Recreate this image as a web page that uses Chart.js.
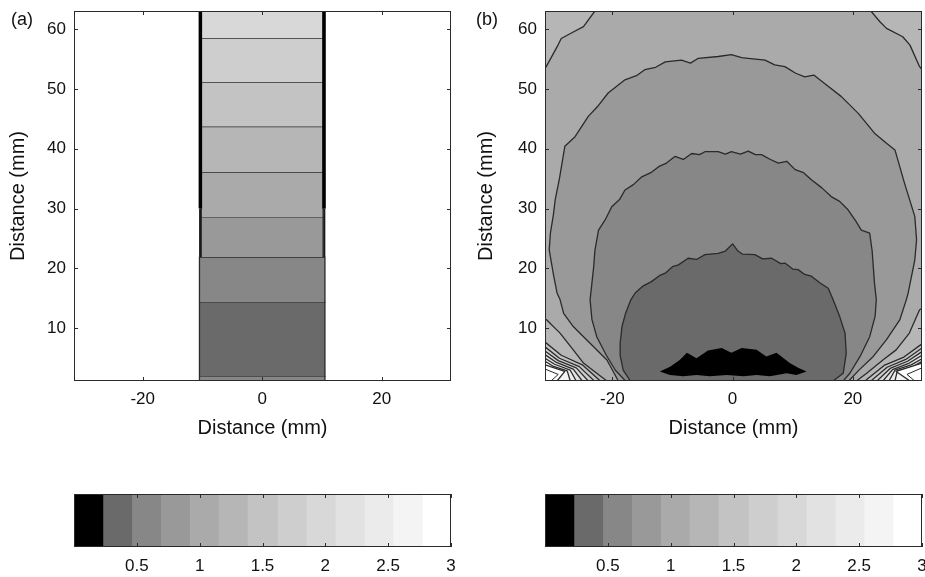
<!DOCTYPE html>
<html>
<head>
<meta charset="utf-8">
<script src="https://cdn.jsdelivr.net/npm/chart.js@4.4.1/dist/chart.umd.min.js"></script>
<style>
  html, body { margin: 0; padding: 0; background: #fff; }
  #wrap { position: relative; width: 925px; height: 577px; overflow: hidden; font-family: "Liberation Sans", Arial, sans-serif; }
  canvas { position: absolute; }
  .tag { position: absolute; font-size: 18px; line-height: 20px; color: #111; }
</style>
</head>
<body>
<div id="wrap">
  <canvas id="panelA" width="462" height="450" style="left:0;top:0"></canvas>
  <canvas id="panelB" width="463" height="450" style="left:462px;top:0"></canvas>
  <canvas id="barA" width="462" height="97" style="left:0;top:480px"></canvas>
  <canvas id="barB" width="463" height="97" style="left:462px;top:480px"></canvas>
  <div class="tag" id="tagA" style="left:11px;top:9px"></div>
  <div class="tag" id="tagB" style="left:476px;top:9px"></div>
</div>
<script>
// ---- data (mm / dose units) ----
const panelTags = ["(a)", "(b)"];
const axisTitle = "Distance (mm)";
const xTicks = [-20, 0, 20];
const yTicks = [10, 20, 30, 40, 50, 60];
const barTicks = [0.5, 1, 1.5, 2, 2.5, 3];
// colour bar blocks: 13 grey levels between 0 and 3
const levelEdges = [0, 0.23, 0.46, 0.69, 0.92, 1.15, 1.38, 1.62, 1.85, 2.08, 2.31, 2.54, 2.77, 3];

// (a) beam column: horizontal bands
const aBandBottom = [0, 2.0, 14.4, 21.9, 28.6, 36.1, 43.7, 51.1, 58.45];
const aBandTop    = [2.0, 14.4, 21.9, 28.6, 36.1, 43.7, 51.1, 58.45, 64];
const aBandLevel  = [2, 1, 2, 3, 4, 5, 6, 7, 8];
const aBandHalf   = [10.5, 10.5, 10.5, 10.2, 10.2, 10.2, 10.2, 10.2, 10.2];
// crowded contour lines on the column edges
const aEdgeThick = [10.35, 30, 64];
const aEdgeThin = [10.4, 21.9, 30];

// (b) contour regions, each a closed outline [x, y]
const bOuter = [[-32, 64], [32.5, 64], [32.5, 0], [-32, 0]];
const bTopLeft = [[-22.9, 64], [-22.9, 63], [-24.8, 60.4], [-26.5, 59.5], [-28.5, 58.4], [-29.2, 57.0], [-31.0, 53.7], [-32, 52.5], [-32, 64]];
const bTopRight = [[22.9, 64], [23.0, 63], [24.5, 61.2], [25.6, 60.1], [28.3, 58.7], [29.5, 57.3], [31.1, 53.7], [32.5, 52], [32.5, 64]];
const bShell3 = [[-19.0, 1.2], [-20.9, 4.7], [-23.7, 7.5], [-24.8, 8.6], [-26.5, 10.3], [-28.1, 12.5], [-28.7, 14.8], [-29.2, 15.9],
  [-29.8, 19.0], [-30.5, 23.1], [-30.3, 25.9], [-29.8, 29.0], [-29.5, 31.5], [-28.8, 35.0], [-27.9, 40.4], [-26.2, 42.0],
  [-24.0, 45.4], [-22.5, 47.0], [-20.7, 49.3], [-17.9, 51.5], [-16.0, 52.2], [-14.6, 53.2], [-12.8, 53.6], [-11.2, 54.5],
  [-8.5, 54.8], [-7.0, 54.3], [-5.7, 55.1], [-2.4, 55.4], [-0.2, 55.7], [1.5, 55.2], [2.6, 55.1], [5.4, 54.8], [7.0, 54.0],
  [8.7, 53.7], [10.5, 52.6], [12.0, 52.0], [13.5, 52.3], [15.3, 50.9], [18.1, 48.7], [20.9, 45.9], [23.6, 42.6], [25.5, 41.0],
  [27.0, 39.8], [28.6, 34.2], [30.3, 28.7], [30.6, 24.8], [30.3, 21.4], [29.2, 15.9], [28.9, 14.8], [27.8, 11.4], [25.6, 8.1],
  [23.4, 5.3], [21.1, 3.1], [19.3, 1.2]];
const bShell2 = [[-17.8, 1.2], [-19.5, 3.0], [-21.0, 5.5], [-22.6, 8.6], [-23.4, 11.5], [-23.7, 14.8], [-23.4, 17.5], [-23.1, 20.3],
  [-22.9, 23.0], [-22.3, 26.4], [-21.2, 28.1], [-20.1, 30.3], [-18.8, 31.5], [-17.9, 33.1], [-16.5, 34.0], [-15.1, 35.3],
  [-13.6, 36.0], [-12.3, 37.0], [-11.0, 37.6], [-9.6, 38.7], [-8.2, 38.2], [-6.8, 39.2], [-5.5, 39.0], [-4.6, 39.5],
  [-2.4, 39.5], [-1.2, 39.1], [-0.2, 39.5], [1.3, 39.1], [2.6, 39.6], [3.8, 39.0], [4.8, 39.0], [6.3, 38.2], [7.6, 37.6],
  [9.0, 37.9], [10.4, 36.5], [11.8, 36.0], [13.1, 34.8], [14.8, 33.5], [16.4, 32.0], [17.8, 31.2], [19.2, 29.8], [20.5, 27.9],
  [21.4, 26.4], [22.8, 25.9], [23.2, 23.0], [23.4, 20.3], [23.6, 17.5], [23.9, 14.8], [23.7, 12.0], [22.8, 8.6], [21.2, 5.3],
  [19.5, 2.5], [18.4, 1.2]];
const bCore = [[-17.0, 1.2], [-18.2, 3.0], [-18.7, 5.5], [-18.7, 7.5], [-18.4, 10.3], [-17.8, 12.5], [-16.9, 14.8], [-16.2, 15.9],
  [-15.0, 17.0], [-13.5, 17.8], [-12.0, 18.9], [-11.2, 19.2], [-10.0, 20.3], [-9.0, 20.6], [-7.4, 21.7], [-6.0, 21.5],
  [-4.6, 22.3], [-2.4, 22.5], [-1.2, 22.9], [0.0, 24.1], [0.8, 23.0], [1.6, 22.4], [3.7, 22.3], [5.0, 21.6], [6.5, 21.7],
  [8.0, 20.8], [8.7, 20.9], [10.0, 19.9], [10.9, 19.8], [12.0, 19.0], [13.1, 18.7], [14.5, 17.6], [15.9, 16.7], [16.7, 14.8],
  [17.8, 12.0], [18.7, 9.2], [18.9, 5.8], [18.4, 2.5], [16.7, 1.2]];
const bPeak = [[-12.1, 2.8], [-10.4, 3.6], [-8.8, 4.7], [-7.6, 5.9], [-6.0, 5.0], [-4.1, 6.3], [-1.8, 6.7], [-0.2, 5.9], [1.5, 6.7],
  [4.0, 6.4], [5.6, 5.3], [7.3, 5.9], [9.5, 4.2], [10.9, 3.4], [12.3, 2.8], [10.6, 2.2], [9.0, 2.5], [6.2, 2.0], [4.0, 2.2],
  [1.8, 2.0], [-1.0, 2.2], [-3.8, 2.0], [-6.0, 2.2], [-8.2, 2.0], [-10.4, 2.2]];
// corner fans near the surface, outer (level 5) to inner (level 12)
const bFanLeft = [
  [[-32, 11.8], [-30.9, 11.4], [-28.7, 9.2], [-26.5, 6.4], [-24.8, 4.2], [-22.6, 2.5], [-20.9, 1.2], [-20.9, 0], [-32, 0]],
  [[-32, 7.9], [-31.2, 7.7], [-28.5, 5.5], [-25.0, 3.9], [-22.0, 1.2], [-22.0, 0], [-32, 0]],
  [[-32, 7.1], [-31.2, 6.9], [-28.8, 5.0], [-25.5, 3.6], [-23.0, 1.2], [-23.0, 0], [-32, 0]],
  [[-32, 6.4], [-31.2, 6.2], [-29.0, 4.6], [-26.0, 3.4], [-24.0, 1.2], [-24.0, 0], [-32, 0]],
  [[-32, 5.8], [-31.2, 5.6], [-29.3, 4.3], [-26.5, 3.2], [-25.0, 1.2], [-25.0, 0], [-32, 0]],
  [[-32, 5.2], [-31.2, 5.0], [-29.6, 4.0], [-27.0, 3.0], [-26.0, 1.2], [-26.0, 0], [-32, 0]],
  [[-32, 4.6], [-31.2, 4.5], [-29.9, 3.7], [-27.5, 2.9], [-27.0, 1.2], [-27.0, 0], [-32, 0]],
  [[-32, 4.0], [-31.2, 3.9], [-27.9, 2.8], [-29.2, 1.2], [-29.2, 0], [-32, 0]]
];
const bFanRight = [
  [[32.5, 13.8], [31.1, 13.1], [29.4, 9.2], [27.2, 6.4], [25.0, 4.7], [22.3, 2.5], [20.6, 1.2], [20.6, 0], [32.5, 0]],
  [[32.5, 7.6], [31.5, 7.4], [28.5, 5.2], [25.2, 3.8], [22.0, 1.2], [22.0, 0], [32.5, 0]],
  [[32.5, 6.9], [31.5, 6.7], [28.8, 4.8], [25.7, 3.5], [23.0, 1.2], [23.0, 0], [32.5, 0]],
  [[32.5, 6.3], [31.5, 6.1], [29.1, 4.5], [26.2, 3.3], [24.0, 1.2], [24.0, 0], [32.5, 0]],
  [[32.5, 5.7], [31.5, 5.5], [29.4, 4.2], [26.6, 3.1], [25.0, 1.2], [25.0, 0], [32.5, 0]],
  [[32.5, 5.1], [31.5, 4.9], [29.7, 3.9], [27.0, 3.0], [26.0, 1.2], [26.0, 0], [32.5, 0]],
  [[32.5, 4.6], [31.5, 4.5], [30.0, 3.6], [27.4, 2.9], [27.0, 1.2], [27.0, 0], [32.5, 0]],
  [[32.5, 4.3], [31.5, 4.2], [27.2, 2.8], [29.5, 1.2], [29.5, 0], [32.5, 0]]
];
const bFanLevel = [5, 6, 7, 8, 9, 10, 11, 12];
// extra lines inside the white corners
const bWhiteLines = [
  [[-31.2, 3.2], [-29.0, 2.3], [-30.2, 1.2]],
  [[31.5, 3.4], [29.0, 2.3], [30.3, 1.2]]
];

// ---- styling ----
const GREYS = ["#000000", "#6a6a6a", "#878787", "#999999", "#aaaaaa", "#b6b6b6", "#c3c3c3", "#cecece",
  "#d8d8d8", "#e2e2e2", "#ebebeb", "#f4f4f4", "#ffffff"];
const LINE = "#2a2a2a";
const TICK_LEN = 4;

Chart.defaults.font.family = '"Liberation Sans", Arial, sans-serif';
Chart.defaults.color = "#111";

// MATLAB-style box with inward ticks on all four sides
const boxTicks = {
  id: "boxTicks",
  afterDraw(chart) {
    const { ctx, chartArea: a } = chart;
    ctx.save();
    ctx.strokeStyle = LINE;
    ctx.lineWidth = 1;
    ctx.beginPath();
    Object.values(chart.scales).forEach((s) => {
      if (!s.options.display) return;
      s.ticks.forEach((t) => {
        const p = Math.round(s.getPixelForValue(t.value)) + 0.5;
        if (s.isHorizontal()) {
          ctx.moveTo(p, a.bottom); ctx.lineTo(p, a.bottom - TICK_LEN);
          ctx.moveTo(p, a.top); ctx.lineTo(p, a.top + TICK_LEN);
        } else {
          ctx.moveTo(a.left, p); ctx.lineTo(a.left + TICK_LEN, p);
          ctx.moveTo(a.right, p); ctx.lineTo(a.right - TICK_LEN, p);
        }
      });
    });
    ctx.stroke();
    ctx.strokeRect(Math.round(a.left) + 0.5, Math.round(a.top) + 0.5, Math.round(a.width) - 1, Math.round(a.height) - 1);
    ctx.restore();
  },
};

function region(points, level, stroke = true, width = 1.3) {
  return {
    data: points.map(([x, y]) => ({ x, y })),
    backgroundColor: GREYS[level],
    borderColor: stroke ? LINE : "rgba(0,0,0,0)",
    borderWidth: stroke ? width : 0,
    borderJoinStyle: "round",
    fill: "shape",
    pointRadius: 0,
    tension: 0,
  };
}

function path(points, color, width) {
  return {
    data: points.map(([x, y]) => ({ x, y })),
    borderColor: color,
    borderWidth: width,
    fill: false,
    pointRadius: 0,
    tension: 0,
  };
}

// datasets are given back-to-front; Chart.js paints higher `order` first
function stacked(list) {
  return list.map((d, i) => Object.assign(d, { order: list.length - i }));
}

const plainLabel = (v) => String(v);

function contourChart(id, datasets, xr, yAxisWidth, rightPad, titlePadTop) {
  return new Chart(document.getElementById(id), {
    type: "line",
    data: { datasets: stacked(datasets) },
    options: {
      responsive: false,
      animation: false,
      events: [],
      layout: { padding: { top: 11, right: rightPad, left: 0, bottom: 0 } },
      plugins: { legend: { display: false }, tooltip: { enabled: false } },
      scales: {
        x: {
          type: "linear", min: xr[0], max: xr[1],
          grid: { display: false, drawTicks: false }, border: { display: false },
          ticks: { font: { size: 17 }, color: "#111", padding: 8, maxRotation: 0, callback: plainLabel },
          afterBuildTicks: (s) => { s.ticks = xTicks.map((v) => ({ value: v })); },
          afterFit: (s) => { s.height = 69; s.paddingLeft = 0; s.paddingRight = 0; },
          title: { display: true, text: axisTitle, font: { size: 20 }, color: "#111", padding: { top: 0, bottom: 10 } },
        },
        y: {
          type: "linear", min: 1.2, max: 63,
          grid: { display: false, drawTicks: false }, border: { display: false },
          ticks: { font: { size: 17 }, color: "#111", padding: 8, callback: plainLabel },
          afterBuildTicks: (s) => { s.ticks = yTicks.map((v) => ({ value: v })); },
          afterFit: (s) => { s.width = yAxisWidth; s.paddingTop = 0; s.paddingBottom = 0; },
          title: { display: true, text: axisTitle, font: { size: 20 }, color: "#111", padding: { top: titlePadTop, bottom: 0 } },
        },
      },
    },
    plugins: [boxTicks],
  });
}

function colourBar(id, leftPad, rightPad) {
  const blocks = levelEdges.slice(0, -1).map((lo, i) => ({
    data: [[lo, levelEdges[i + 1]]],
    backgroundColor: GREYS[i],
    borderWidth: 0,
    grouped: false,
    barPercentage: 1,
    categoryPercentage: 1,
  }));
  return new Chart(document.getElementById(id), {
    type: "bar",
    data: { labels: [""], datasets: blocks },
    options: {
      indexAxis: "y",
      responsive: false,
      animation: false,
      events: [],
      layout: { padding: { top: 14, left: leftPad, right: rightPad, bottom: 0 } },
      plugins: { legend: { display: false }, tooltip: { enabled: false } },
      scales: {
        x: {
          type: "linear", min: 0, max: 3,
          grid: { display: false, drawTicks: false }, border: { display: false },
          ticks: { font: { size: 17 }, color: "#111", padding: 9, maxRotation: 0, callback: plainLabel },
          afterBuildTicks: (s) => { s.ticks = barTicks.map((v) => ({ value: v })); },
          afterFit: (s) => { s.height = 30; s.paddingLeft = 0; s.paddingRight = 0; },
        },
        y: { display: false },
      },
    },
    plugins: [boxTicks],
  });
}

// ---- panel (a) ----
const aSets = [];
aBandLevel.forEach((lvl, i) => {
  const w = aBandHalf[i];
  aSets.push(region([[-w, aBandBottom[i]], [-w, aBandTop[i]], [w, aBandTop[i]], [w, aBandBottom[i]]], lvl, true, 1.3));
});
[-1, 1].forEach((side) => {
  aSets.push(path([[side * aEdgeThin[0], aEdgeThin[1]], [side * aEdgeThin[0], aEdgeThin[2]]], "#1a1a1a", 2));
  aSets.push(path([[side * aEdgeThick[0], aEdgeThick[1]], [side * aEdgeThick[0], aEdgeThick[2]]], "#000", 3.5));
});
contourChart("panelA", aSets, [-31.5, 31.6], 74, 11, 6);

// ---- panel (b) ----
const bSets = [region(bOuter, 4, false), region(bTopLeft, 5), region(bTopRight, 5)];
bFanLevel.forEach((lvl, i) => {
  bSets.push(region(bFanLeft[i], lvl));
  bSets.push(region(bFanRight[i], lvl));
});
bSets.push(region(bShell3, 3), region(bShell2, 2), region(bCore, 1), region(bPeak, 0, false));
bWhiteLines.forEach((l) => bSets.push(path(l, LINE, 1)));
contourChart("panelB", bSets, [-31.2, 31.5], 83, 3, 12);

colourBar("barA", 74, 11);
colourBar("barB", 83, 3);

document.getElementById("tagA").textContent = panelTags[0];
document.getElementById("tagB").textContent = panelTags[1];
</script>
</body>
</html>
